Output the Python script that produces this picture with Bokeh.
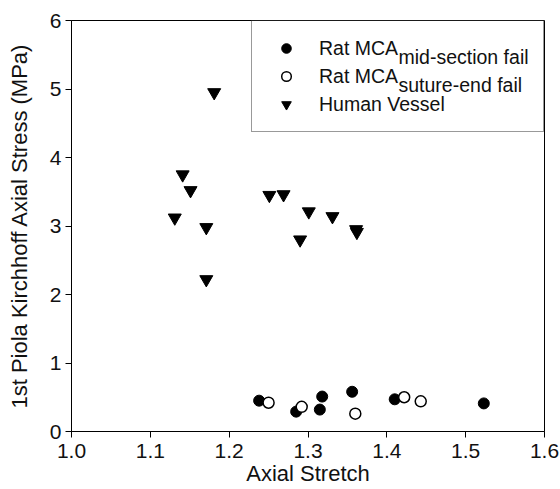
from bokeh.plotting import figure
from bokeh.models import Legend, LegendItem, Label, FixedTicker, NumeralTickFormatter, Range1d
from bokeh.embed import file_html
from bokeh.resources import INLINE

FONT = "Liberation Sans"

# Rat MCA, failure at the mid-section
mid_stretch = [1.238, 1.285, 1.315, 1.318, 1.356, 1.410, 1.523]
mid_stress = [0.45, 0.29, 0.32, 0.51, 0.58, 0.47, 0.41]

# Rat MCA, failure at the suture end
sut_stretch = [1.250, 1.292, 1.360, 1.422, 1.443]
sut_stress = [0.42, 0.36, 0.26, 0.50, 0.44]

# Human vessel
hum_stretch = [1.131, 1.141, 1.151, 1.171, 1.171, 1.181, 1.251, 1.269,
               1.290, 1.301, 1.331, 1.361, 1.362]
hum_stress = [3.12, 3.75, 3.52, 2.98, 2.22, 4.95, 3.45, 3.46,
              2.80, 3.21, 3.14, 2.95, 2.91]

x_ticks = [1.0, 1.1, 1.2, 1.3, 1.4, 1.5, 1.6]
y_ticks = [0, 1, 2, 3, 4, 5, 6]
x_title = "Axial Stretch"
y_title = "1st Piola Kirchhoff Axial Stress (MPa)"

p = figure(width=560, height=489, output_backend="svg", toolbar_location=None,
           x_range=Range1d(1.0, 1.6), y_range=Range1d(0, 6),
           min_border_left=71, min_border_right=16, min_border_top=20,
           min_border_bottom=58)

p.xgrid.visible = False
p.ygrid.visible = False
p.outline_line_color = "black"
p.outline_line_width = 1
p.background_fill_color = "white"
p.border_fill_color = "white"

for ax in (p.xaxis[0], p.yaxis[0]):
    ax.axis_line_color = "black"
    ax.major_tick_line_color = "black"
    ax.major_tick_out = 6
    ax.major_tick_in = 0
    ax.minor_tick_line_color = None
    ax.major_label_text_font = FONT
    ax.major_label_text_font_size = "21px"
    ax.major_label_text_color = "#111111"
    ax.axis_label_text_font = FONT
    ax.axis_label_text_font_size = "22px"
    ax.axis_label_text_font_style = "normal"
    ax.axis_label_text_color = "#111111"

p.xaxis.ticker = FixedTicker(ticks=x_ticks)
p.xaxis.formatter = NumeralTickFormatter(format="0.0")
p.xaxis.major_label_standoff = 6
p.xaxis.axis_label = x_title
p.xaxis.axis_label_standoff = 0
p.yaxis.ticker = FixedTicker(ticks=y_ticks)
p.yaxis.formatter = NumeralTickFormatter(format="0")
p.yaxis.major_label_standoff = 4
p.yaxis.axis_label = y_title
p.yaxis.axis_label_standoff = 15

r_hum = p.scatter(hum_stretch, hum_stress, marker="inverted_triangle", size=13,
                  fill_color="black", line_color="black")
r_mid = p.scatter(mid_stretch, mid_stress, marker="circle", size=11,
                  fill_color="black", line_color="black")
r_sut = p.scatter(sut_stretch, sut_stress, marker="circle", size=11,
                  fill_color="white", line_color="black", line_width=1.5)

# legend geometry (pixels); transparent box so the subscripts show through
pad, glyph_w, standoff, label_w, row_h, gap = 15, 38, 14, 209, 24, 4
legend = Legend(items=[
    LegendItem(label="Rat MCA", renderers=[r_mid]),
    LegendItem(label="Rat MCA", renderers=[r_sut]),
    LegendItem(label="Human Vessel", renderers=[r_hum]),
], location="top_right", margin=0, padding=pad, spacing=gap,
    glyph_width=glyph_w, glyph_height=row_h, label_height=row_h,
    label_standoff=standoff, label_width=label_w,
    label_text_font=FONT, label_text_font_size="19.5px", label_text_color="#111111",
    border_line_color="#333333", border_line_width=1.5,
    background_fill_alpha=0.0)
p.add_layout(legend)

# subscripts after "Rat MCA", anchored to the top-left corner of the frame
frame_w = 473
box_w = 2 * pad + glyph_w + standoff + label_w
text_x = frame_w - box_w + pad + glyph_w + standoff
main_w = 78
subs = ["mid-section fail", "suture-end fail"]
for i, s in enumerate(subs):
    row_c = pad + row_h / 2 + i * (row_h + gap)
    p.add_layout(Label(x=1.0, y=6.0, x_offset=text_x + main_w,
                       y_offset=-(row_c + 9), text=s,
                       text_baseline="alphabetic", text_font=FONT,
                       text_font_size="19.5px", text_color="#111111"))

open("out.html", "w").write(file_html(p, INLINE))
